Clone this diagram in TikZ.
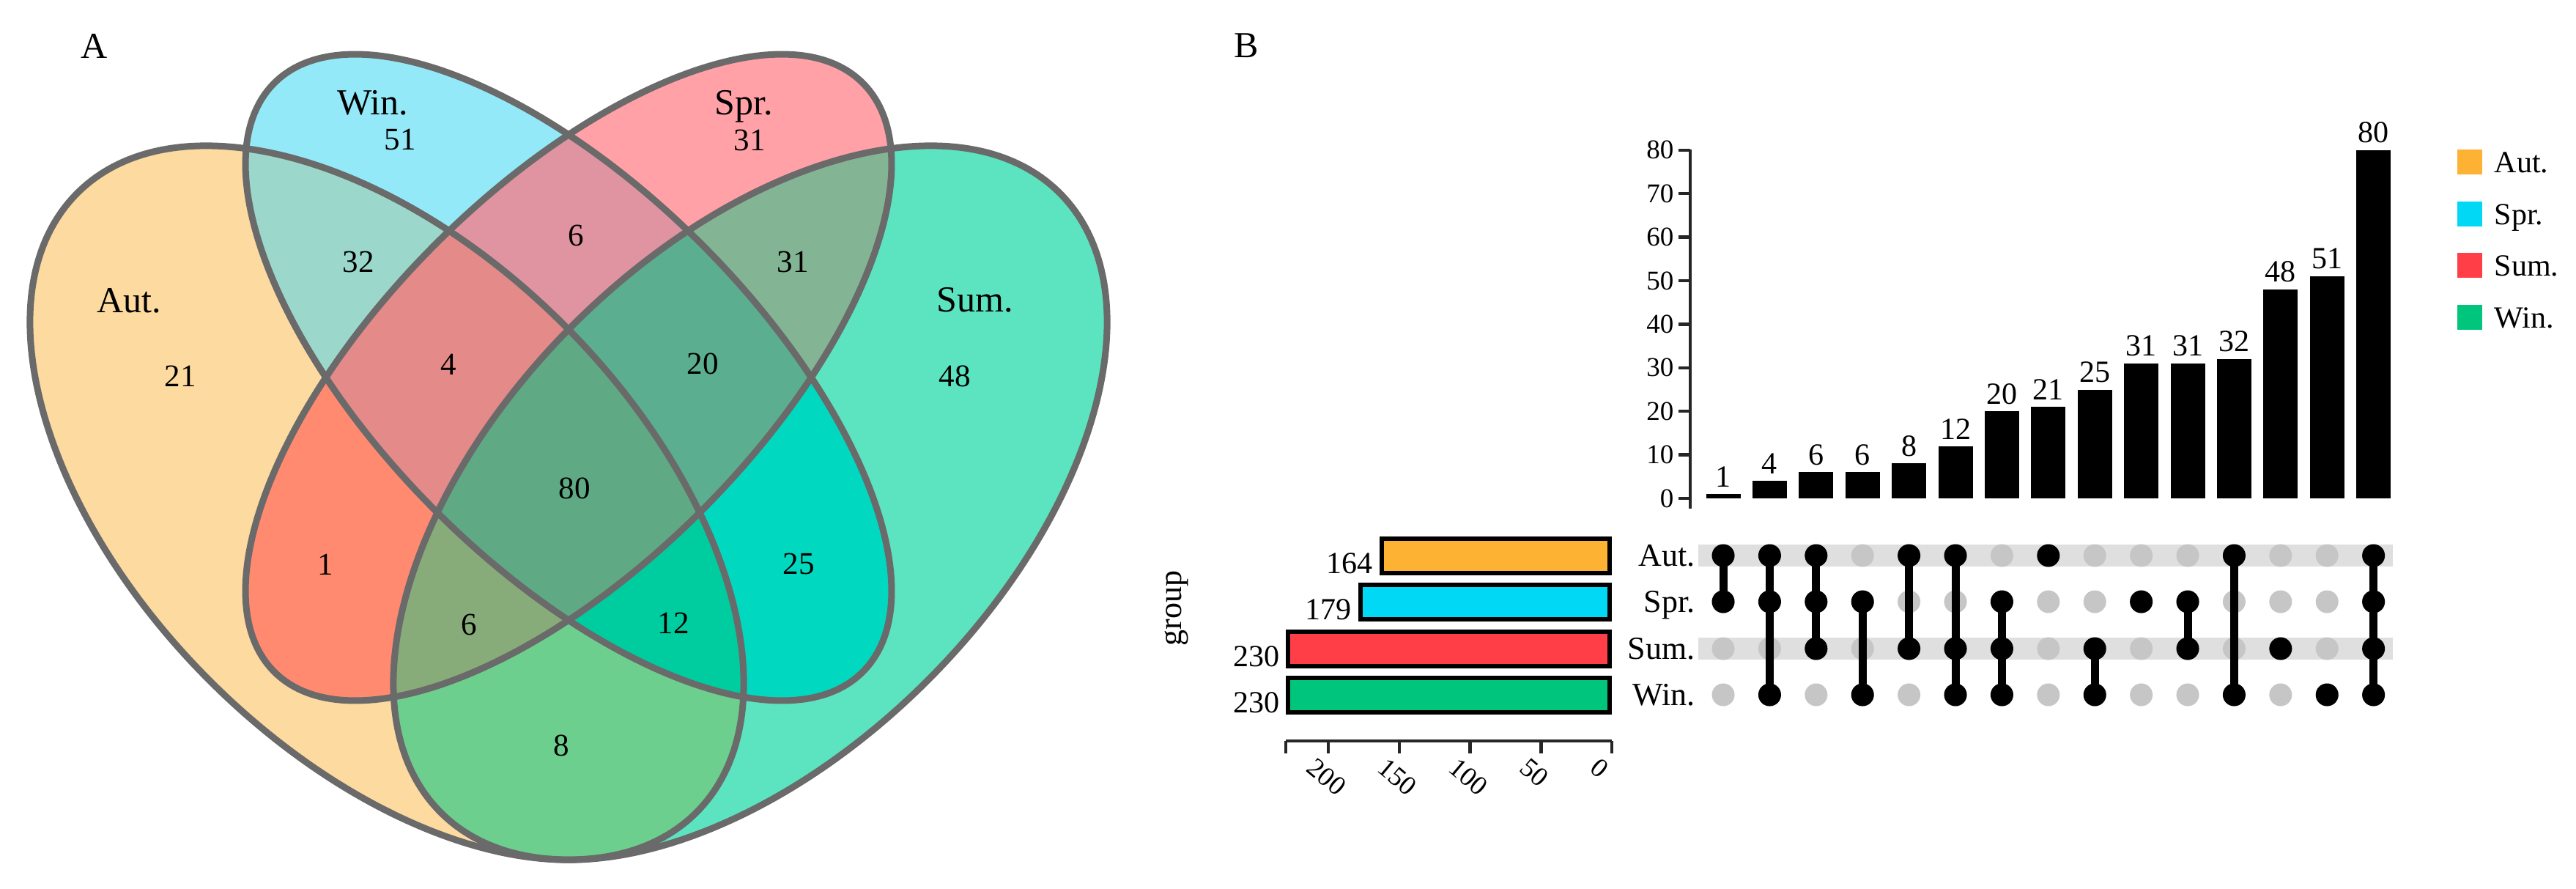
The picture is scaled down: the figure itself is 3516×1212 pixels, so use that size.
\documentclass[tikz,border=0pt]{standalone}
\usepackage{fontspec}
\setmainfont{Liberation Serif}

\definecolor{vAut}{HTML}{FDDA9F}
\definecolor{vWin}{HTML}{94E9F8}
\definecolor{vSpr}{HTML}{FFA1A7}
\definecolor{vSum}{HTML}{5CE3BF}
\definecolor{vAW}{HTML}{9BD8CB}
\definecolor{vAP}{HTML}{FF8A70}
\definecolor{vAS}{HTML}{6DCF8E}
\definecolor{vWP}{HTML}{E094A1}
\definecolor{vWS}{HTML}{00D9C0}
\definecolor{vPS}{HTML}{83B594}
\definecolor{vAPW}{HTML}{E48A88}
\definecolor{vPSW}{HTML}{5BAE8F}
\definecolor{vAPS}{HTML}{88AC79}
\definecolor{vASW}{HTML}{00CD9F}
\definecolor{vAll}{HTML}{5FAA84}
\definecolor{vLine}{HTML}{6A6A6A}
\definecolor{uAut}{HTML}{FDB233}
\definecolor{uSpr}{HTML}{00D8F5}
\definecolor{uSum}{HTML}{FF3E48}
\definecolor{uWin}{HTML}{00C57C}
\definecolor{bandcol}{HTML}{DFDFDF}
\definecolor{gdotcol}{HTML}{C6C6C6}

\newcommand\fTitle{\fontsize{5mm}{6mm}\selectfont}
\newcommand\fVname{\fontsize{5mm}{6mm}\selectfont}
\newcommand\fVnum{\fontsize{4.3mm}{5mm}\selectfont}
\newcommand\fLab{\fontsize{4.2mm}{5mm}\selectfont}
\newcommand\fTick{\fontsize{3.7mm}{4.5mm}\selectfont}
\newcommand\fRow{\fontsize{4.4mm}{5mm}\selectfont}

\newcommand\Eout{(0,0) ellipse [x radius=597.5, y radius=342.6]}
\newcommand\Ein{(0,0) ellipse [x radius=568, y radius=257]}

\begin{document}
\begin{tikzpicture}[x=0.01cm,y=-0.01cm,
  eAut/.style={shift={(528,686)},rotate=-45},
  eSum/.style={shift={(1024,686)},rotate=45},
  eWin/.style={shift={(776,515)},rotate=-45},
  eSpr/.style={shift={(776,515)},rotate=45},
  outline/.style={draw=vLine,line width=0.9mm},
  vname/.style={font=\fVname,inner sep=0,anchor=base},
  vnum/.style={font=\fVnum,inner sep=0},
  ptitle/.style={font=\fTitle,inner sep=0,anchor=base west},
  barlab/.style={font=\fLab,inner sep=0,anchor=south},
  ticklab/.style={font=\fTick,inner sep=0},
  axisline/.style={line width=0.45mm,draw=black!85},
  rowlab/.style={font=\fRow,inner sep=0,anchor=base east},
  leglab/.style={font=\fLab,inner sep=0,anchor=base west},
  sizelab/.style={font=\fLab,inner sep=0,anchor=south east},
  sbar/.style={draw=black,line width=0.6mm},
  gdotn/.style={circle,fill=gdotcol,minimum size=3.1mm,inner sep=0},
  bdotn/.style={circle,fill=black,minimum size=3.1mm,inner sep=0},
  conn/.style={line width=1.1mm,black}]

\useasboundingbox (0,0) rectangle (3516,1212);
\fill[white] (0,0) rectangle (3516,1212);

% ---------------- Panel A: Venn ----------------
\node[ptitle] (titleA) at (110,79) {A};

% single sets
\fill[vAut,eAut] \Eout;
\fill[vSum,eSum] \Eout;
\fill[vWin,eWin] \Ein;
\fill[vSpr,eSpr] \Ein;
% pairs
\begin{scope}\clip[eAut] \Eout; \fill[vAW,eWin] \Ein; \end{scope}
\begin{scope}\clip[eAut] \Eout; \fill[vAP,eSpr] \Ein; \end{scope}
\begin{scope}\clip[eAut] \Eout; \fill[vAS,eSum] \Eout; \end{scope}
\begin{scope}\clip[eWin] \Ein; \fill[vWP,eSpr] \Ein; \end{scope}
\begin{scope}\clip[eWin] \Ein; \fill[vWS,eSum] \Eout; \end{scope}
\begin{scope}\clip[eSpr] \Ein; \fill[vPS,eSum] \Eout; \end{scope}
% triples
\begin{scope}\clip[eAut] \Eout; \clip[eSpr] \Ein; \fill[vAPW,eWin] \Ein; \end{scope}
\begin{scope}\clip[eSpr] \Ein; \clip[eSum] \Eout; \fill[vPSW,eWin] \Ein; \end{scope}
\begin{scope}\clip[eAut] \Eout; \clip[eSpr] \Ein; \fill[vAPS,eSum] \Eout; \end{scope}
\begin{scope}\clip[eAut] \Eout; \clip[eSum] \Eout; \fill[vASW,eWin] \Ein; \end{scope}
% all four
\begin{scope}\clip[eAut] \Eout; \clip[eSum] \Eout; \clip[eSpr] \Ein; \fill[vAll,eWin] \Ein; \end{scope}
% outlines
\path[outline,eAut] \Eout;
\path[outline,eSum] \Eout;
\path[outline,eWin] \Ein;
\path[outline,eSpr] \Ein;

% labels
\node[vname] (lWin) at (509,156) {Win.};
\node[vname] (lSpr) at (1015,156) {Spr.};
\node[vname] (lAut) at (176,426) {Aut.};
\node[vname] (lSum) at (1331,425) {Sum.};
\node[vnum] (n51) at (546,191) {51};
\node[vnum] (n31a) at (1023,191) {31};
\node[vnum] (n21) at (246,513) {21};
\node[vnum] (n48) at (1303,513) {48};
\node[vnum] (n32) at (489,357) {32};
\node[vnum] (n6a) at (786,321) {6};
\node[vnum] (n31b) at (1082,357) {31};
\node[vnum] (n4) at (612,497) {4};
\node[vnum] (n20) at (959,496) {20};
\node[vnum] (n80) at (784,666) {80};
\node[vnum] (n1) at (444,770) {1};
\node[vnum] (n25) at (1090,769) {25};
\node[vnum] (n6b) at (640,852) {6};
\node[vnum] (n12) at (919,850) {12};
\node[vnum] (n8) at (766,1017) {8};

% ---------------- Panel B: UpSet ----------------
\node[ptitle] (titleB) at (1684,78) {B};

% intersection size axis
\draw[axisline] (2307,204) -- (2307,694);
\foreach \t in {0,10,...,80} {
  \draw[axisline] (2291,{680-5.94*\t}) -- (2307,{680-5.94*\t});
  \node[ticklab,anchor=east] (yt\t) at (2285,{680-5.94*\t}) {\t};
}
% bars
\foreach \v [count=\i] in {1,4,6,6,8,12,20,21,25,31,31,32,48,51,80} {
  \pgfmathsetmacro\xc{2352+63.4*(\i-1)}
  \fill[black] (\xc-23.5,680) rectangle (\xc+23.5,{680-5.94*\v});
  \node[barlab] (bl\i) at (\xc,{680-5.94*\v-9}) {\v};
}

% legend
\foreach \nm/\col/\yy [count=\i] in {Aut./uAut/221,Spr./uSpr/292,Sum./uSum/362,Win./uWin/433} {
  \fill[\col] (3354,\yy-17) rectangle (3388,\yy+17);
  \node[leglab] (lg\i) at (3404,\yy+14) {\nm};
}

% matrix bands
\fill[bandcol] (2318,743.3) rectangle (3266,772.7);
\fill[bandcol] (2318,870.3) rectangle (3266,899.7);

% row labels
\node[rowlab] (rAut) at (2314,772) {Aut.};
\node[rowlab] (rSpr) at (2314,835) {Spr.};
\node[rowlab] (rSum) at (2314,899) {Sum.};
\node[rowlab] (rWin) at (2314,962) {Win.};

% gray dots
\foreach \c in {1,...,15} {
  \foreach \r/\ry in {1/758,2/821,3/885,4/948} {
    \node[gdotn] (g-\c-\r) at ({2352+63.4*(\c-1)},\ry) {};
  }
}
% connectors
\foreach \c/\a/\b in {1/1/2,2/1/4,3/1/3,4/2/4,5/1/3,6/1/4,7/2/4,9/3/4,11/2/3,12/1/4,15/1/4} {
  \draw[conn] (g-\c-\a.center) -- (g-\c-\b.center);
}
% black dots
\foreach \c/\r in {1/1,1/2,2/1,2/2,2/4,3/1,3/2,3/3,4/2,4/4,5/1,5/3,6/1,6/3,6/4,7/2,7/3,7/4,8/1,9/3,9/4,10/2,11/2,11/3,12/1,12/4,13/3,14/4,15/1,15/2,15/3,15/4} {
  \node[bdotn] (b-\c-\r) at (g-\c-\r) {};
}

% set size bars
\foreach \v/\col/\ry/\nm in {164/uAut/758/sA,179/uSpr/821.5/sP,230/uSum/885.5/sS,230/uWin/948.5/sW} {
  \draw[sbar,fill=\col] ({2200-1.935*\v+3},\ry-23.5) rectangle (2197,\ry+23.5);
  \node[sizelab] (\nm) at ({2200-1.935*\v-8},\ry+25.5) {\v};
}
% set size axis
\draw[axisline] (1755,1011) -- (2200,1011);
\draw[axisline] (1755,1011) -- (1755,1028);
\foreach \t in {0,50,100,150,200} {
  \draw[axisline] ({2200-1.935*\t},1011) -- ({2200-1.935*\t},1028);
  \node[ticklab,anchor=west,rotate=-40] (st\t) at ({2200-1.935*\t-24},1042) {\t};
}
\node[font=\fRow,inner sep=0,rotate=90] (grp) at (1606,830) {group};

\end{tikzpicture}
\end{document}
